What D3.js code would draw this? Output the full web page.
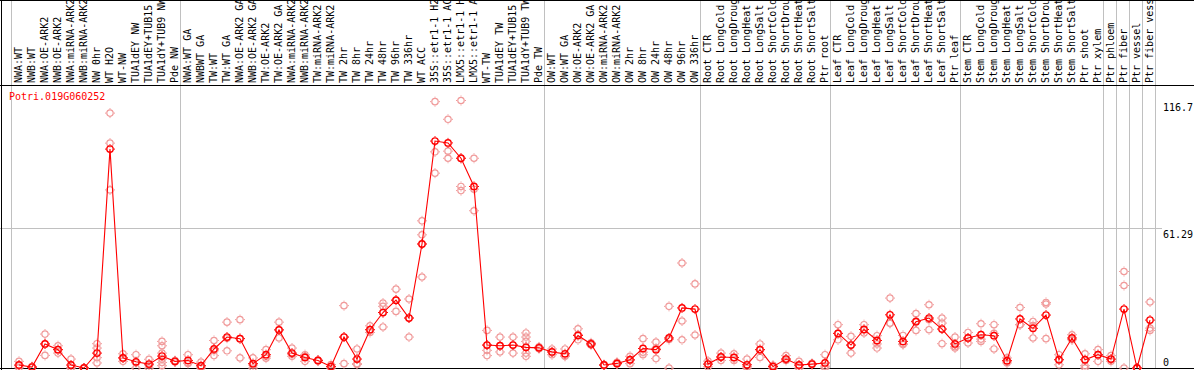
<!DOCTYPE html>
<html>
<head>
<meta charset="utf-8">
<script src="https://cdn.jsdelivr.net/npm/d3@7"></script>
<style>
  body { margin: 0; background: #fff; }
  svg { display: block; }
  text { font-family: "DejaVu Sans Mono", "Liberation Mono", monospace; font-size: 10px; }
</style>
</head>
<body>
<svg id="chart" width="1194" height="370"></svg>
<script>
const geneName = 'Potri.019G060252'

const labels = [
  'NWA:WT', 'NWB:WT', 'NWA:OE-ARK2', 'NWB:OE-ARK2', 'NWA:miRNA-ARK2', 'NWB:miRNA-ARK2',
  'NW 0hr', 'WT H2O', 'WT-NW', 'TUA1dEY NW', 'TUA1dEY+TUB15 NW', 'TUA1dY+TUB9 NW', 'Pde NW',
  'NWA:WT GA', 'NWBWT GA', 'TW:WT', 'TW:WT GA', 'NWA:OE-ARK2 GA', 'NWB:OE-ARK2 GA',
  'TW:OE-ARK2', 'TW:OE-ARK2 GA', 'NWA:miRNA-ARK2', 'NWB:miRNA-ARK2', 'TW:miRNA-ARK2',
  'TW:miRNA-ARK2', 'TW 2hr', 'TW 8hr', 'TW 24hr', 'TW 48hr', 'TW 96hr', 'TW 336hr',
  'WT ACC', '35S::etr1-1 H2O', '35S::etr1-1 ACC', 'LMX5::etr1-1 H2O', 'LMX5::etr1-1 ACC',
  'WT-TW', 'TUA1dEY TW', 'TUA1dEY+TUB15 TW', 'TUA1dY+TUB9 TW', 'Pde TW',
  'OW:WT', 'OW:WT GA', 'OW:OE-ARK2', 'OW:OE-ARK2 GA', 'OW:miRNA-ARK2', 'OW:miRNA-ARK2',
  'OW 2hr', 'OW 8hr', 'OW 24hr', 'OW 48hr', 'OW 96hr', 'OW 336hr',
  'Root CTR', 'Root LongCold', 'Root LongDrought', 'Root LongHeat', 'Root LongSalt',
  'Root ShortCold', 'Root ShortDrought', 'Root ShortHeat', 'Root ShortSalt', 'Ptr root',
  'Leaf CTR', 'Leaf LongCold', 'Leaf LongDrought', 'Leaf LongHeat', 'Leaf LongSalt',
  'Leaf ShortCold', 'Leaf ShortDrought', 'Leaf ShortHeat', 'Leaf ShortSalt', 'Ptr leaf',
  'Stem CTR', 'Stem LongCold', 'Stem LongDrought', 'Stem LongHeat', 'Stem LongSalt',
  'Stem ShortCold', 'Stem ShortDrought', 'Stem ShortHeat', 'Stem ShortSalt', 'Ptr shoot',
  'Ptr xylem', 'Ptr phloem', 'Ptr fiber', 'Ptr vessel', 'Ptr fiber vessel'
]

// sample groups, left to right (number of columns in each)
const groupSizes = [13, 28, 12, 10, 10, 11, 1, 1, 1, 1]

const means = [
  1.3, 0.4, 10.5, 8.0, 1.3, 0, 6.5, 95.5, 4.4, 2.7, 1.7, 5.2, 2.9,
  3.3, 1.0, 8.3, 13.5, 12.8, 1.9, 5.8, 16.6, 6.5, 4.6, 3.3, 0.7, 13.5, 3.9,
  16.7, 24.2, 29.6, 21.8, 54.1, 99.0, 98.2, 91.5, 79.2, 10.0, 9.7, 10.0, 9.0, 8.8,
  7.0, 6.2, 14.2, 10.5, 1.3, 2.0, 3.6, 8.5, 8.0, 13.1, 26.2, 25.7,
  1.7, 4.8, 4.6, 1.4, 8.0, 0.6, 3.9, 1.3, 1.7, 2.2,
  15.1, 10.0, 16.8, 12.0, 23.2, 11.6, 20.2, 21.8, 17.0, 10.5,
  13.1, 14.5, 14.1, 3.2, 21.4, 17.3, 23.1, 3.6, 13.1, 3.6, 5.8,
  3.9, 25.7, 0, 20.9
]

const replicates = [
  [2.9, 1.0, 0.1], [0.6, 0.4, 0.2], [14.8, 10.5, 5.5], [9.7, 8.0, 6.5], [3.9, 0.2, 0],
  [0, 0, 0], [10.6, 8.7, 4.5, 2.2], [111.2, 98.1, 77.7], [6.2, 4.4, 2.9], [5.8, 2.3, 0],
  [3.8, 1.3, 0], [11.6, 9.7, 6.5, 3.9, 2.4, 1.0], [3.2, 2.9, 2.6],
  [5.8, 2.2, 2.0], [2.6, 0.5, 0], [12.0, 7.5, 5.4], [20.0, 13.0, 7.5], [21.1, 12.9, 4.4],
  [4.4, 1.3, 0], [8.0, 5.1, 4.3], [20.0, 16.7, 13.1], [8.7, 6.0, 5.1], [5.8, 5.1, 2.9],
  [3.5, 3.3, 3.0], [1.5, 0.5, 0], [27.2, 13.5, 1.9], [8.3, 1.9, 1.5], [18.4, 16.7, 15.5],
  [28.3, 26.9, 24.2, 17.9], [34.4, 29.6, 24.7], [30.1, 21.8, 13.5], [64.2, 58.1, 54.1, 39.7],
  [116.2, 94.3, 85.0], [108.5, 94.6, 91.5], [116.7, 91.5, 79.2, 77.4], [91.5, 78.0, 68.6],
  [16.4, 10.0, 7.7, 5.4], [13.5, 9.7, 7.0], [13.5, 10.0, 6.5], [15.3, 13.5, 11.6, 9.0, 6.5, 5.1],
  [9.2, 8.8, 8.4],
  [8.3, 7.0, 5.8], [8.3, 5.3, 5.1], [17.1, 14.5, 12.3], [11.0, 10.5, 10.0], [1.5, 1.3, 1.1],
  [2.5, 1.8, 1.7], [5.1, 3.3, 1.9], [12.8, 6.9, 5.8], [11.3, 8.6, 4.1], [26.9, 12.4, 0],
  [45.8, 20.5, 12.3], [36.7, 14.4],
  [3.0, 1.7, 0.5], [6.5, 4.8, 3.3], [6.2, 4.5, 3.3], [3.9, 0.7, 0], [10.5, 8.0, 4.6],
  [1.2, 0.6, 0], [5.4, 3.9, 3.3], [2.9, 1.0, 0], [2.0, 1.7, 1.5], [5.8, 0.8, 0],
  [18.9, 15.1, 12.3], [13.8, 10.0, 6.5], [18.9, 16.8, 15.3], [14.1, 10.5, 8.7], [30.5, 19.6, 19.5],
  [14.2, 10.5, 10.2], [23.7, 20.5, 16.4], [27.6, 21.1, 16.7], [21.8, 19.6, 10.6], [13.5, 9.3, 8.7],
  [15.5, 13.0, 10.9], [19.3, 12.6, 11.6], [18.9, 15.1, 8.3], [4.4, 3.0, 2.2], [26.4, 18.9, 18.9],
  [20.3, 18.5, 13.1], [28.6, 27.9, 12.8], [5.8, 3.6, 1.4], [14.5, 12.5, 12.3], [6.2, 3.6, 1.0, 0],
  [8.0, 5.8, 2.9], [5.4, 3.6, 2.9], [42.1, 36.0, 0], [0, 0, 0], [28.8, 17.4, 16.4]
]

const yTicks = [0, 61.29, 116.7]

const width = 1194
const height = 370
const headerY = 85
const plotLeft = 12
const plotRight = 1156
const plotBottom = 368
const plotTop = 100.5

const MEAN_COLOR = '#ff0000'
const REP_COLOR = '#f09a9a'
const GRID_COLOR = '#c0c0c0'

const svg = d3.select('#chart')

const x = d3.scaleBand()
  .domain(d3.range(labels.length))
  .range([plotLeft, plotRight])

const y = d3.scaleLinear()
  .domain([0, d3.max(yTicks)])
  .range([plotBottom, plotTop])

const cx = i => x(i) + x.bandwidth() / 2 + 0.5

// Group separators (vertical grey lines through header and plot)
let bounds = [0]
groupSizes.forEach(n => bounds.push(bounds[bounds.length - 1] + n))

svg.append('g')
  .selectAll('line')
  .data(bounds)
  .join('line')
  .attr('x1', d => (d < labels.length ? x(d) : plotRight) - 0.5)
  .attr('x2', d => (d < labels.length ? x(d) : plotRight) - 0.5)
  .attr('y1', 0)
  .attr('y2', plotBottom)
  .attr('stroke', GRID_COLOR)

// Horizontal grid at the middle tick
svg.append('g')
  .selectAll('line')
  .data(yTicks.filter(t => t > 0 && t < d3.max(yTicks)))
  .join('line')
  .attr('x1', 0)
  .attr('x2', 1162)
  .attr('y1', d => Math.round(y(d)) + 0.5)
  .attr('y2', d => Math.round(y(d)) + 0.5)
  .attr('stroke', GRID_COLOR)

// Frame lines
let frame = svg.append('g').attr('stroke', '#000').attr('shape-rendering', 'crispEdges')
frame.append('line').attr('x1', 0).attr('x2', width).attr('y1', 0.5).attr('y2', 0.5)
frame.append('line').attr('x1', 0).attr('x2', width).attr('y1', headerY + 0.5).attr('y2', headerY + 0.5)
frame.append('line').attr('x1', 0).attr('x2', width).attr('y1', plotBottom + 0.5).attr('y2', plotBottom + 0.5)
frame.append('line').attr('x1', 1.5).attr('x2', 1.5).attr('y1', 0).attr('y2', height)

// Column labels, rotated
let header = svg.append('g')
header.append('clipPath').attr('id', 'headerClip')
  .append('rect').attr('x', 0).attr('y', 1).attr('width', width).attr('height', headerY - 1)

header.append('g')
  .attr('clip-path', 'url(#headerClip)')
  .selectAll('text')
  .data(labels)
  .join('text')
  .attr('transform', (d, i) => `translate(${cx(i) + 3},${headerY - 2}) rotate(-90)`)
  .attr('fill', '#000')
  .text(d => d)

// Gene name
svg.append('text')
  .attr('x', 9)
  .attr('y', 100)
  .attr('fill', MEAN_COLOR)
  .text(geneName)

// Y tick labels on the right
svg.append('g')
  .selectAll('text')
  .data(yTicks)
  .join('text')
  .attr('x', 1163)
  .attr('y', d => d === 0 ? y(d) - 2.5 : y(d) + 10)
  .attr('fill', '#000')
  .text(d => d)

// Marker: ring with four small stubs
function marker(sel, color, sw) {
  sel.append('circle')
    .attr('r', 3.2)
    .attr('fill', 'none')
    .attr('stroke', color)
    .attr('stroke-width', sw)
  sel.append('path')
    .attr('d', 'M0,-5V-4M0,4V5M-5,0H-4M4,0H5')
    .attr('stroke', color)
    .attr('stroke-width', 1)
}

// Replicates
let reps = []
replicates.forEach((vals, i) => vals.forEach(v => reps.push({ i, v })))

svg.append('g')
  .selectAll('g')
  .data(reps)
  .join('g')
  .attr('transform', d => `translate(${cx(d.i)},${y(d.v)})`)
  .call(marker, REP_COLOR, 1.2)

// Mean line
svg.append('path')
  .datum(means)
  .attr('fill', 'none')
  .attr('stroke', MEAN_COLOR)
  .attr('stroke-width', 1.1)
  .attr('d', d3.line().x((d, i) => cx(i)).y(d => y(d)))

svg.append('g')
  .selectAll('g')
  .data(means)
  .join('g')
  .attr('transform', (d, i) => `translate(${cx(i)},${y(d)})`)
  .call(marker, MEAN_COLOR, 1.4)
</script>
</body>
</html>
